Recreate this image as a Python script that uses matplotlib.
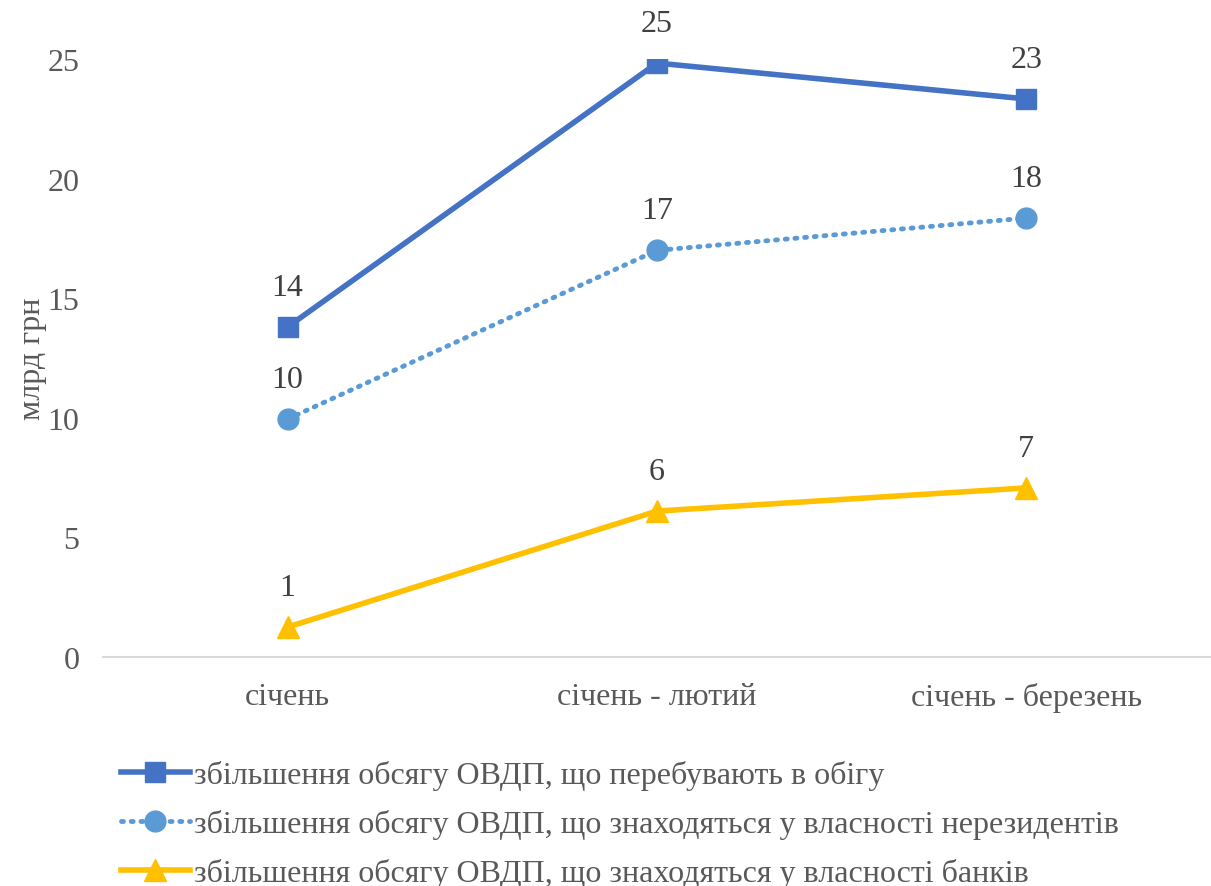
import matplotlib
matplotlib.use("Agg")
import matplotlib.pyplot as plt

categories = ["січень", "січень - лютий", "січень - березень"]
s_total = [13.8, 24.83, 23.33]
s_nonres = [9.95, 17.0, 18.35]
s_banks = [1.25, 6.1, 7.07]
labels_total = ["14", "25", "23"]
labels_nonres = ["10", "17", "18"]
labels_banks = ["1", "6", "7"]
names = [
    "збільшення обсягу ОВДП, що перебувають в обігу",
    "збільшення обсягу ОВДП, що знаходяться у власності нерезидентів",
    "збільшення обсягу ОВДП, що знаходяться у власності банків",
]
yticks = [0, 5, 10, 15, 20, 25]

plt.rcParams['font.family'] = ['Liberation Serif', 'DejaVu Serif']
gray = "#595959"
fs = 23

fig = plt.figure(figsize=(12.11, 8.87), dpi=100)
ax = fig.add_axes([103/1211, 1 - 658/887, (1211 - 103)/1211, (658 - 60)/887])

x = list(range(len(categories)))
ax.plot(x, s_total, color="#4472C4", lw=4, marker="s", ms=14, label=names[0])
ax.plot(x, s_nonres, color="#5B9BD5", lw=3.5, ls=(0, (0.4, 1.6)), dash_capstyle="round",
        marker="o", ms=15, label=names[1])
ax.plot(x, s_banks, color="#FFC000", lw=4, marker="^", ms=16, label=names[2])

for series, labs in [(s_total, labels_total), (s_nonres, labels_nonres), (s_banks, labels_banks)]:
    for xi, yi, lab in zip(x, series, labs):
        ax.annotate(lab, (xi, yi), xytext=(0, 18), textcoords="offset points",
                    ha="center", va="bottom", fontsize=fs, color="#404040")

ax.set_xlim(-0.5, 2.5)
ax.set_ylim(0, 25)
ax.set_yticks(yticks)
ax.set_xticks(x)
ax.set_xticklabels(categories)
ax.tick_params(axis="both", length=0, labelsize=fs, colors=gray)
ax.tick_params(axis="y", pad=17)
ax.tick_params(axis="x", pad=18)
for s in ["top", "right", "left"]:
    ax.spines[s].set_visible(False)
ax.spines["bottom"].set_color("#D9D9D9")
ax.spines["bottom"].set_linewidth(1.5)
ax.set_ylabel("млрд грн", fontsize=fs, color=gray, labelpad=0)
ax.patch.set_alpha(0)

leg = ax.legend(loc="upper left", bbox_to_anchor=(121/1211, 1 - 761/887),
                bbox_transform=fig.transFigure, frameon=False, fontsize=fs,
                handlelength=2.15, handletextpad=0.15, labelspacing=0.6,
                borderaxespad=0, borderpad=0)
for t in leg.get_texts():
    t.set_color(gray)

fig.savefig("out.png", dpi=100)
